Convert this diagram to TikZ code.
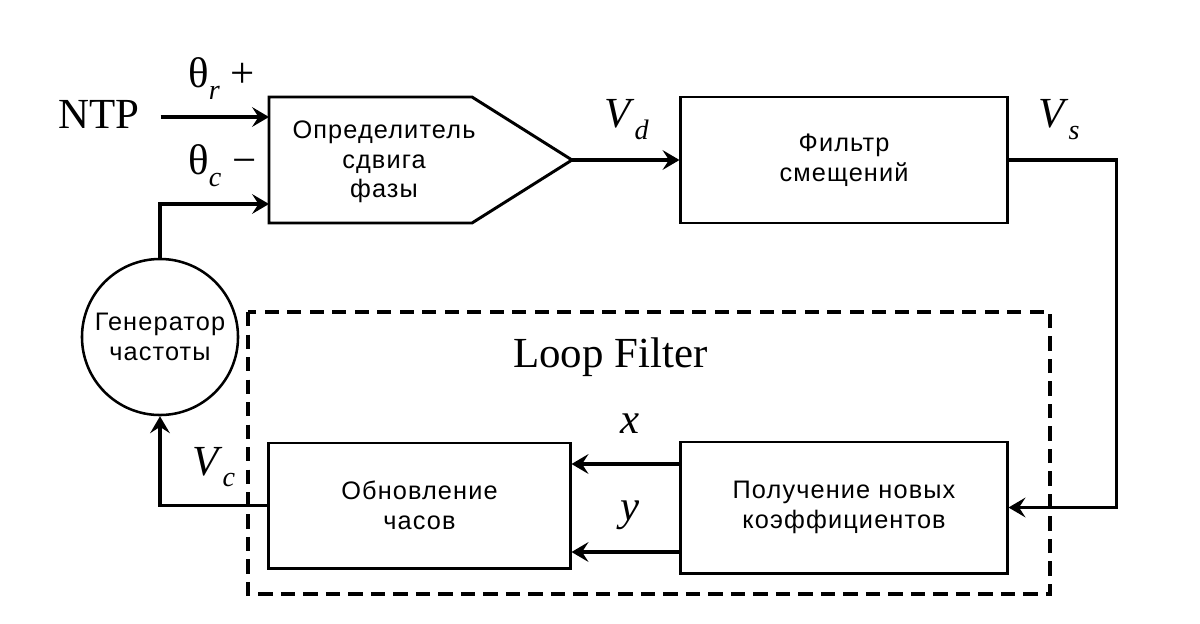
\documentclass[tikz,border=0pt]{standalone}
\usepackage{fontspec}
\setmainfont{Liberation Serif}
\newfontfamily\rufont[LetterSpace=4.5]{Liberation Sans}
\usetikzlibrary{arrows.meta,positioning}

\newcommand\lowsub[1]{\raisebox{-8pt}{\fontsize{20}{20}\selectfont\textit{#1}}}

\begin{document}
\begin{tikzpicture}[
  x=0.025cm, y=-0.025cm,
  box/.style={draw, line width=2.1pt, align=center, inner sep=0pt,
    font=\rufont\fontsize{18}{21}\selectfont},
  lbl/.style={anchor=base west, inner sep=0pt, font=\fontsize{30.5}{30.5}\selectfont},
  tip/.style={-{Stealth[length=12pt, width=14pt, inset=4.5pt]}},
  sig/.style={tip, line width=3.3pt},
  wire/.style={line width=2.5pt},
  grp/.style={line width=3.4pt, dash pattern=on 10pt off 6pt}
]
\useasboundingbox (0,0) rectangle (1200,623);

% phase detector
\draw[box] (269,97) -- (472,97) -- (572,160) -- (472,223) -- (269,223) -- cycle;
\node[box, draw=none] (pd) at (384,162) {Определитель\\сдвига\\фазы};
\coordinate (pdtip) at (572,160);
\coordinate (pdin1) at (269,117);
\coordinate (pdin2) at (269,204);

\node[box, minimum width=8.15cm, minimum height=3.15cm]   (filt)  at (844,160)   {Фильтр\\смещений};
\node[box, minimum width=8.15cm, minimum height=3.275cm]  (coef)  at (844,507.5) {Получение новых\\коэффициентов};
\node[box, minimum width=7.525cm, minimum height=3.125cm] (clock) at (419.5,505.5) {Обновление\\часов};
\node[box, circle, line width=1.8pt, minimum size=3.9cm]  (gen)   at (160,337)   {Генератор\\частоты};

% loop filter group
\draw[grp] (248,312) rectangle (1050,594);
\node[lbl] (lf) at (513,367) {Loop Filter};

% labels
\node[lbl] (ntp) at (58,129) {NTP};
\node[lbl] (thr) at (188,88)  {θ\lowsub{r} +};
\node[lbl] (thc) at (188,175) {θ\lowsub{c} −};
\node[lbl] (vd)  at (604,128) {\textit{V}\lowsub{d}};
\node[lbl] (vs)  at (1038,128) {\textit{V}\lowsub{s}};
\node[lbl] (vc)  at (192,475) {\textit{V}\lowsub{c}};
\node[lbl] (lx)  at (620,433) {\textit{x}};
\node[lbl] (ly)  at (620,520) {\textit{y}};

\coordinate (xrow) at (0,464);
\coordinate (yrow) at (0,552);

% connectors
\draw[sig] (ntp.east |- pdin1) ++(15pt,0) -- (pdin1);
\draw[sig] (gen.north) |- (pdin2);
\draw[sig] (pdtip) -- (filt.west);
\draw[wire, tip] (filt.east) -- ++(108,0) |- (coef.east);
\draw[sig] (coef.west |- xrow) -- (clock.east |- xrow);
\draw[sig] (coef.west |- yrow) -- (clock.east |- yrow);
\draw[wire, tip] (clock.west) -| (gen.south);
\end{tikzpicture}
\end{document}
